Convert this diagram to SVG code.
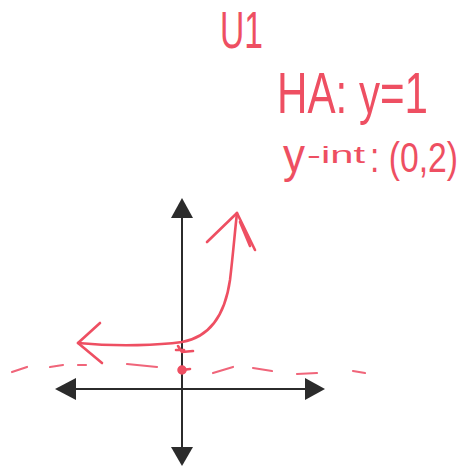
<svg xmlns="http://www.w3.org/2000/svg" width="464" height="467" viewBox="0 0 464 467">
<style>
.ink{fill:none;stroke:#ee4f62;stroke-width:2.6;stroke-linecap:round;stroke-linejoin:round}
.dash{fill:none;stroke:#f0657a;stroke-width:2.2;stroke-linecap:round}
.axis{fill:none;stroke:#2b2b2b;stroke-width:2}
.head{fill:#2b2b2b}
.hand{fill:#ee4f62;font-family:"Liberation Sans",Arial,sans-serif;font-weight:normal}
</style>
<rect width="464" height="467" fill="#ffffff"/>
<g id="title">
<text class="hand" transform="translate(220,48) scale(1,1.55)" font-size="34" textLength="43" lengthAdjust="spacingAndGlyphs">U1</text>
</g>
<g id="labels">
<text class="hand" transform="translate(277,113) scale(1,1.35)" font-size="42" textLength="151" lengthAdjust="spacingAndGlyphs">HA: y=1</text>
<text class="hand" transform="translate(283,172) scale(1,1.4)" font-size="34" textLength="22" lengthAdjust="spacingAndGlyphs">y</text>
<text class="hand" x="307" y="163" font-size="24" textLength="58" lengthAdjust="spacingAndGlyphs">-int</text>
<text class="hand" transform="translate(370,172) scale(1,1.4)" font-size="30" textLength="88" lengthAdjust="spacingAndGlyphs">: (0,2)</text>
</g>
<g id="axes">
<line class="axis" x1="182" y1="212" x2="182" y2="452"/>
<line class="axis" x1="70" y1="389" x2="310" y2="389"/>
<polygon class="head" points="182,198 171,218 193,218"/>
<polygon class="head" points="182,466 171,447 193,447"/>
<polygon class="head" points="55,389 76,378 76,400"/>
<polygon class="head" points="325,389 305,378 305,400"/>
</g>
<g id="asymptote">
<path class="dash" d="M12,372 L27,367 M50,367 L63,365 M78,365 L86,365 M127,364 L157,367 M213,373 L233,367 M253,368 L272,371 M297,374 L317,373 M353,371 L365,373"/>
</g>
<g id="connectors">
<path class="ink" d="M78,343 C120,347 160,345 182,342 C210,337 225,315 230,280 C233,255 235,230 237,213"/>
<path class="ink" d="M207,242 L237,213 L255,250 M240,222 L250,246"/>
<path class="ink" d="M100,323 L78,343 L102,363"/>
</g>
<g id="points">
<path class="ink" d="M178,346 L182,352 L193,351 M176,350 L184,350"/>
<circle cx="182" cy="370" r="4" fill="#ee4f62" stroke="#ee4f62" stroke-width="1.5"/>
<path class="ink" d="M182,370 L190,369"/>
</g>
</svg>
